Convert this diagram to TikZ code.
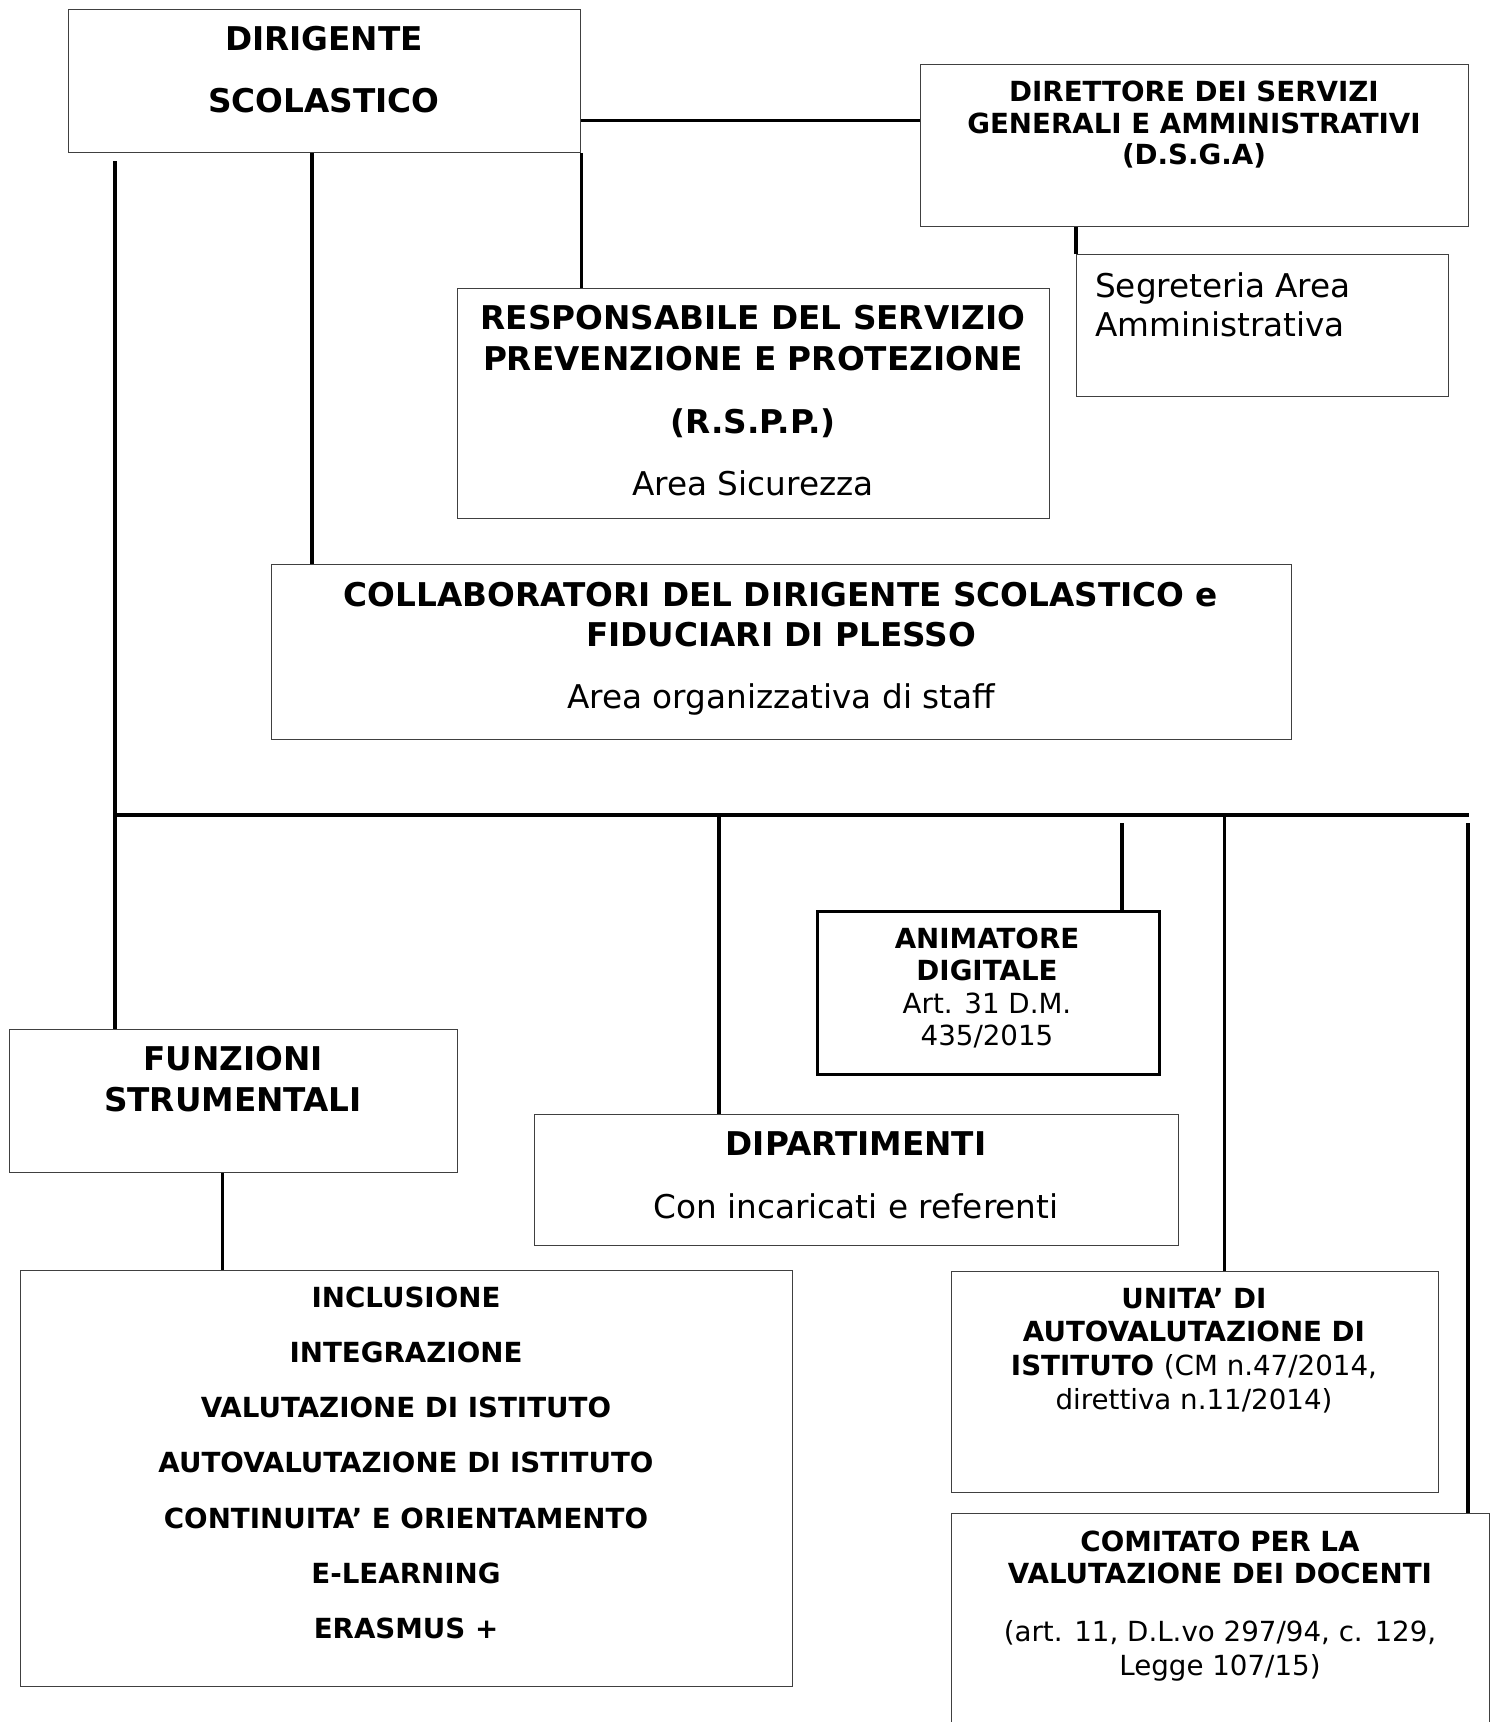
\documentclass[tikz,border=0pt]{standalone}
\usepackage{fontspec}
\setmainfont{DejaVu Sans}
\usetikzlibrary{calc}

\newcommand{\bigtxt}{\fontsize{32.7}{40}\selectfont}
\newcommand{\smalltxt}{\fontsize{27.7}{33}\selectfont}

\begin{document}
\begin{tikzpicture}[x=1pt,y=1pt,yscale=-1,xscale=1,
  box/.style={draw={black!75},line width=1.3pt,anchor=north west,inner sep=0pt},
  link/.style={line width=3.3pt},
  bus/.style={line width=4.6pt},
  bigb/.style={anchor=base,inner sep=0pt,font=\bigtxt\bfseries},
  bigr/.style={anchor=base,inner sep=0pt,font=\bigtxt},
  smb/.style={anchor=base,inner sep=0pt,font=\smalltxt\bfseries},
  smr/.style={anchor=base,inner sep=0pt,font=\smalltxt}]
\useasboundingbox (0,0) rectangle (1491,1722);

%Shape: Rectangle
\node[box,minimum width=512pt,minimum height=143pt] (dir) at (68,9) {};
%Shape: Rectangle
\node[box,minimum width=548pt,minimum height=162pt] (dsga) at (920,64) {};
%Shape: Rectangle
\node[box,minimum width=372pt,minimum height=142pt] (seg) at (1076,254) {};
%Shape: Rectangle
\node[box,minimum width=592pt,minimum height=230pt] (rspp) at (457,288) {};
%Shape: Rectangle
\node[box,minimum width=1020pt,minimum height=175pt] (coll) at (271,564) {};
%Shape: Rectangle
\node[box,minimum width=448pt,minimum height=143pt] (funz) at (9,1029) {};
%Shape: Rectangle
\node[box,minimum width=772pt,minimum height=416pt] (incl) at (20,1270) {};
%Shape: Rectangle
\node[box,draw=black,line width=2.6pt,minimum width=342pt,minimum height=163pt] (anim) at (816,910) {};
%Shape: Rectangle
\node[box,minimum width=644pt,minimum height=131pt] (dip) at (534,1114) {};
%Shape: Rectangle
\node[box,minimum width=487pt,minimum height=221pt] (unita) at (951,1271) {};
%Shape: Rectangle
\node[box,minimum width=538pt,minimum height=260pt] (comit) at (951,1513) {};

%Straight Lines
\draw[link] ([yshift=-25pt]dsga.west) -- ([yshift=-25pt]dsga.west -| dir.east);
\draw[link] (seg.north west) -- (seg.north west |- dsga.south);
\draw[link] (dir.south east) -- (dir.south east |- rspp.north);
\coordinate (collIn) at ([xshift=41pt]coll.north west);
\draw[link] (collIn) -- (collIn |- dir.south);
\coordinate (trunk) at (115,161);
\draw[link] (trunk) -- (trunk |- funz.north);
\coordinate (busL) at (115,815);
\coordinate (busR) at (1469,815);
\draw[bus] (busL) -- (busR);
\coordinate (dipIn) at ([xshift=185pt]dip.north west);
\draw[link] (dipIn) -- (dipIn |- busL);
\coordinate (animTop) at (1122,823);
\draw[link] (animTop) -- (animTop |- anim.north);
\coordinate (unitaIn) at ([xshift=29pt]unita.north);
\draw[link] (unitaIn) -- (unitaIn |- busL);
\coordinate (rightTop) at (1468,823);
\draw[bus] (rightTop) -- (rightTop |- comit.north);
\coordinate (funzOut) at ([xshift=-11pt]funz.south);
\draw[link] (funzOut) -- (funzOut |- incl.north);

% Text Node
\node[bigb] (dirA) at (324,50) {DIRIGENTE};
\node[bigb] (dirB) at (324,112) {SCOLASTICO};
% Text Node
\node[smb] (dsgaA) at (1194,101) {DIRETTORE DEI SERVIZI};
\node[smb] (dsgaB) at (1194,133) {GENERALI E AMMINISTRATIVI};
\node[smb] (dsgaC) at (1194,164) {(D.S.G.A)};
% Text Node
\node[bigr,anchor=base west] (segA) at (1095,297) {Segreteria Area};
\node[bigr,anchor=base west] (segB) at (1095,336) {Amministrativa};
% Text Node
\node[bigb] (rsppA) at (753,329) {RESPONSABILE DEL SERVIZIO};
\node[bigb] (rsppB) at (753,370) {PREVENZIONE E PROTEZIONE};
\node[bigb] (rsppC) at (753,433) {(R.S.P.P.)};
\node[bigr] (rsppD) at (753,495) {Area Sicurezza};
% Text Node
\node[bigb] (collA) at (781,606) {COLLABORATORI DEL DIRIGENTE SCOLASTICO e};
\node[bigb] (collB) at (781,646) {FIDUCIARI DI PLESSO};
\node[bigr] (collC) at (781,708) {Area organizzativa di staff};
% Text Node
\node[bigb] (funzA) at (233,1070) {FUNZIONI};
\node[bigb] (funzB) at (233,1111) {STRUMENTALI};
% Text Node
\foreach \t [count=\i] in {INCLUSIONE,INTEGRAZIONE,VALUTAZIONE DI ISTITUTO,AUTOVALUTAZIONE DI ISTITUTO,CONTINUITA’ E ORIENTAMENTO,E-LEARNING,ERASMUS +}
  \node[smb] (fs\i) at (406,{1307+55.3*(\i-1)}) {\t};
% Text Node
\node[smb] (animA) at (987,948) {ANIMATORE};
\node[smb] (animB) at (987,980) {DIGITALE};
\node[smr] (animC) at (987,1013) {Art. 31 D.M.};
\node[smr] (animD) at (987,1045) {435/2015};
% Text Node
\node[bigb] (dipA) at (856,1155) {DIPARTIMENTI};
\node[bigr] (dipB) at (856,1218) {Con incaricati e referenti};
% Text Node
\node[smb] (unitaA) at (1194,1308) {UNITA’ DI};
\node[smb] (unitaB) at (1194,1341) {AUTOVALUTAZIONE DI};
\node[smb] (unitaC) at (1194,1375) {ISTITUTO \mdseries(CM n.47/2014,};
\node[smr] (unitaD) at (1194,1409) {direttiva n.11/2014)};
% Text Node
\node[smb] (comitA) at (1220,1551) {COMITATO PER LA};
\node[smb] (comitB) at (1220,1583) {VALUTAZIONE DEI DOCENTI};
\node[smr] (comitC) at (1220,1641) {(art. 11, D.L.vo 297/94, c. 129,};
\node[smr] (comitD) at (1220,1675) {Legge 107/15)};

\end{tikzpicture}
\end{document}
